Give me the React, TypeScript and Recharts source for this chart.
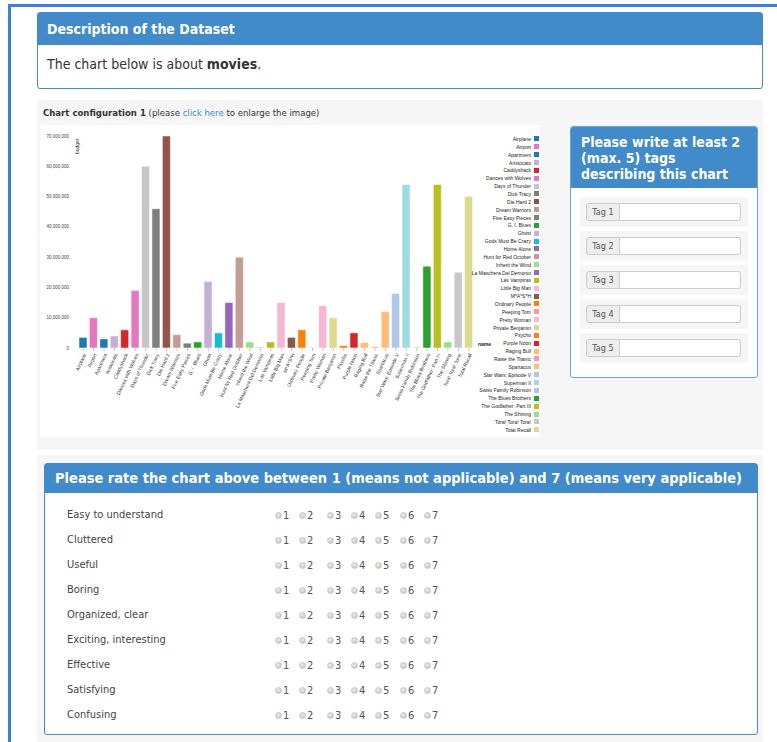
import { BarChart, Bar, XAxis, YAxis, Cell } from "recharts";

const FONT = '"DejaVu Sans Condensed", "DejaVu Sans", sans-serif';
const CHART_FONT = '"Liberation Sans", Arial, sans-serif';
const BLUE = "#428bca";

const movies = [
  "Airplane", "Airport", "Apartment", "Aristocats", "Caddyshack", "Dances with Wolves",
  "Days of Thunder", "Dick Tracy", "Die Hard 2", "Dream Warriors", "Five Easy Pieces",
  "G. I. Blues", "Ghost", "Gods Must Be Crazy", "Home Alone", "Hunt for Red October",
  "Inherit the Wind", "La Maschera Del Demonio", "Las Vampiras", "Little Big Man", "M*A*S*H",
  "Ordinary People", "Peeping Tom", "Pretty Woman", "Private Benjamin", "Psycho",
  "Purple Noon", "Raging Bull", "Raise the Titanic", "Spartacus", "Star Wars: Episode V",
  "Superman II", "Swiss Family Robinson", "The Blues Brothers", "The Godfather: Part III",
  "The Shining", "Tora! Tora! Tora!", "Total Recall",
];

const budgets = [
  3500000, 10000000, 3000000, 4000000, 6000000, 19000000,
  60000000, 46000000, 70000000, 4400000, 1600000,
  2000000, 22000000, 5000000, 15000000, 30000000,
  2000000, 200000, 2000000, 15000000, 3500000,
  6000000, 150000, 14000000, 10000000, 800000,
  5000000, 1800000, 400000, 12000000, 18000000,
  54000000, 300000, 27000000, 54000000,
  2000000, 25000000, 50000000,
];

const colors = [
  "#1f77b4", "#e377c2", "#1f77b4", "#c5b0d5", "#d62728", "#e377c2",
  "#c7c7c7", "#7f7f7f", "#8c564b", "#c49c94", "#7f7f7f",
  "#2ca02c", "#c5b0d5", "#17becf", "#9467bd", "#c49c94",
  "#98df8a", "#9467bd", "#bcbd22", "#f7b6d2", "#8c564b",
  "#ff7f0e", "#ff9896", "#f7b6d2", "#dbdb8d", "#ff7f0e",
  "#d62728", "#ffbb78", "#ff9896", "#ffbb78", "#aec7e8",
  "#9edae5", "#aec7e8", "#2ca02c", "#bcbd22",
  "#98df8a", "#c7c7c7", "#dbdb8d",
];

const yTicks = [0, 10000000, 20000000, 30000000, 40000000, 50000000, 60000000, 70000000];

const criteria = [
  "Easy to understand", "Cluttered", "Useful", "Boring", "Organized, clear",
  "Exciting, interesting", "Effective", "Satisfying", "Confusing",
];
const scaleLabels = ["1", "2", "3", "4", "5", "6", "7"];
const tagLabels = ["Tag 1", "Tag 2", "Tag 3", "Tag 4", "Tag 5"];

const radioX = [275, 299, 327, 351, 375, 400, 424];

const data = movies.map((name, i) => ({ name, budget: budgets[i] }));

function Radio({ label, left }: { label: string; left: number }) {
  return (
    <div style={{ position: "absolute", left, top: 0, display: "flex", alignItems: "center", height: 14 }}>
      <span
        style={{
          width: 7,
          height: 7,
          borderRadius: "50%",
          background: "radial-gradient(circle at 40% 35%, #eee, #bbb)",
          border: "1px solid #c8c8c8",
          boxSizing: "border-box",
          marginRight: 1,
        }}
      />
      <span style={{ fontSize: 11, color: "#555" }}>{label}</span>
    </div>
  );
}

function MovieChart() {
  return (
    <div style={{ position: "absolute", left: 40, top: 125, width: 500, height: 312, background: "#fff" }}>
      <BarChart width={500} height={312} data={data} margin={{ top: 11, right: 66, left: 0, bottom: 0 }} barCategoryGap={1}>
        <XAxis
          dataKey="name"
          interval={0}
          height={89}
          angle={-65}
          textAnchor="end"
          tickSize={3}
          tickMargin={2}
          axisLine={false}
          tickLine={{ stroke: "#888", strokeWidth: 0.5 }}
          tick={{ fontSize: 5, fill: "#333", fontFamily: CHART_FONT }}
        />
        <YAxis
          width={38}
          domain={[0, 70000000]}
          ticks={yTicks}
          axisLine={false}
          tickLine={false}
          tickSize={0}
          tickMargin={9}
          tickFormatter={(v: number) => v.toLocaleString("en-US")}
          tick={{ fontSize: 4.5, fill: "#444", fontFamily: CHART_FONT }}
        />
        <Bar dataKey="budget" isAnimationActive={false} stroke="#fff" strokeWidth={0.5}>
          {data.map((d, i) => (
            <Cell key={d.name} fill={colors[i]} />
          ))}
        </Bar>
      </BarChart>
      <div
        style={{
          position: "absolute",
          left: 34,
          top: 12,
          transform: "rotate(-90deg)",
          transformOrigin: "left top",
          fontSize: 5,
          fontFamily: CHART_FONT,
          color: "#333",
        }}
      >
        <span style={{ position: "absolute", left: -17, top: 0 }}>budget</span>
      </div>
      <div style={{ position: "absolute", left: 438, top: 216, fontSize: 5, fontWeight: "bold", fontFamily: CHART_FONT, color: "#222" }}>
        name
      </div>
      <div style={{ position: "absolute", right: 1, top: 10, fontFamily: CHART_FONT, fontSize: 5, color: "#222" }}>
        {movies.map((m, i) => (
          <div key={m} style={{ display: "flex", justifyContent: "flex-end", alignItems: "center", height: 7.86 }}>
            <span style={{ marginRight: 3, whiteSpace: "nowrap" }}>{m}</span>
            <span style={{ width: 5, height: 5, background: colors[i] }} />
          </div>
        ))}
      </div>
    </div>
  );
}

export default function App() {
  return (
    <div style={{ position: "absolute", left: 0, top: 0, width: 777, height: 742, overflow: "hidden", background: "#fff", fontFamily: FONT, color: "#333" }}>
      <div style={{ position: "absolute", left: 8, top: 4, width: 900, height: 900, borderTop: "3px solid #3b82d9", borderLeft: "3px solid #3b82d9" }} />

      <div style={{ position: "absolute", left: 37, top: 12, width: 724, height: 75, border: `1px solid ${BLUE}`, borderRadius: 3, background: "#fff" }}>
        <div style={{ height: 32, background: BLUE, color: "#fff", fontWeight: "bold", fontSize: 14, lineHeight: "32px", paddingLeft: 9 }}>
          Description of the Dataset
        </div>
        <div style={{ paddingLeft: 9, fontSize: 14, marginTop: 11 }}>
          The chart below is about <b>movies</b>.
        </div>
      </div>

      <div style={{ position: "absolute", left: 37, top: 100, width: 726, height: 350, background: "#f6f6f6" }}>
        <div style={{ position: "absolute", left: 6, top: 7, fontSize: 9.5, color: "#333" }}>
          <b>Chart configuration 1</b> (please <span style={{ color: BLUE }}>click here</span> to enlarge the image)
        </div>
      </div>
      <MovieChart />

      <div style={{ position: "absolute", left: 570, top: 126, width: 186, height: 250, border: "1px solid #6fa2d8", borderRadius: 3, background: "#fff", overflow: "hidden" }}>
        <div style={{ height: 61, background: BLUE, color: "#fff", fontWeight: "bold", fontSize: 14, lineHeight: "16px", padding: "7px 10px 0 10px", boxSizing: "border-box" }}>
          Please write at least 2 (max. 5) tags describing this chart
        </div>
        {tagLabels.map((t, i) => (
          <div key={t} style={{ position: "absolute", left: 9, top: 70 + i * 34, width: 168, height: 30, background: "#f6f6f6" }}>
            <div style={{ position: "absolute", left: 6, top: 6, width: 155, height: 18, display: "flex" }}>
              <div style={{ width: 34, border: "1px solid #ccc", background: "#eee", borderRadius: "3px 0 0 3px", fontSize: 9, color: "#555", display: "flex", alignItems: "center", justifyContent: "center", boxSizing: "border-box" }}>
                {t}
              </div>
              <div style={{ flex: 1, border: "1px solid #ccc", borderLeft: "none", borderRadius: "0 3px 3px 0", background: "#fff" }} />
            </div>
          </div>
        ))}
      </div>

      <div style={{ position: "absolute", left: 37, top: 455, width: 726, height: 300, background: "#f6f6f6" }} />
      <div style={{ position: "absolute", left: 44, top: 463, width: 712, height: 270, border: `1px solid ${BLUE}`, borderRadius: 3, background: "#fff" }}>
        <div style={{ height: 29, background: BLUE, color: "#fff", fontWeight: "bold", fontSize: 14.5, lineHeight: "29px", paddingLeft: 10 }}>
          Please rate the chart above between 1 (means not applicable) and 7 (means very applicable)
        </div>
        {criteria.map((c, i) => (
          <div key={c} style={{ position: "absolute", left: 0, top: 44 + i * 25, width: 700, height: 14 }}>
            <div style={{ position: "absolute", left: 22, top: 0, fontSize: 11, lineHeight: "14px", color: "#444" }}>{c}</div>
            {scaleLabels.map((s, j) => (
              <Radio key={s} label={s} left={radioX[j] - 45} />
            ))}
          </div>
        ))}
      </div>
    </div>
  );
}
